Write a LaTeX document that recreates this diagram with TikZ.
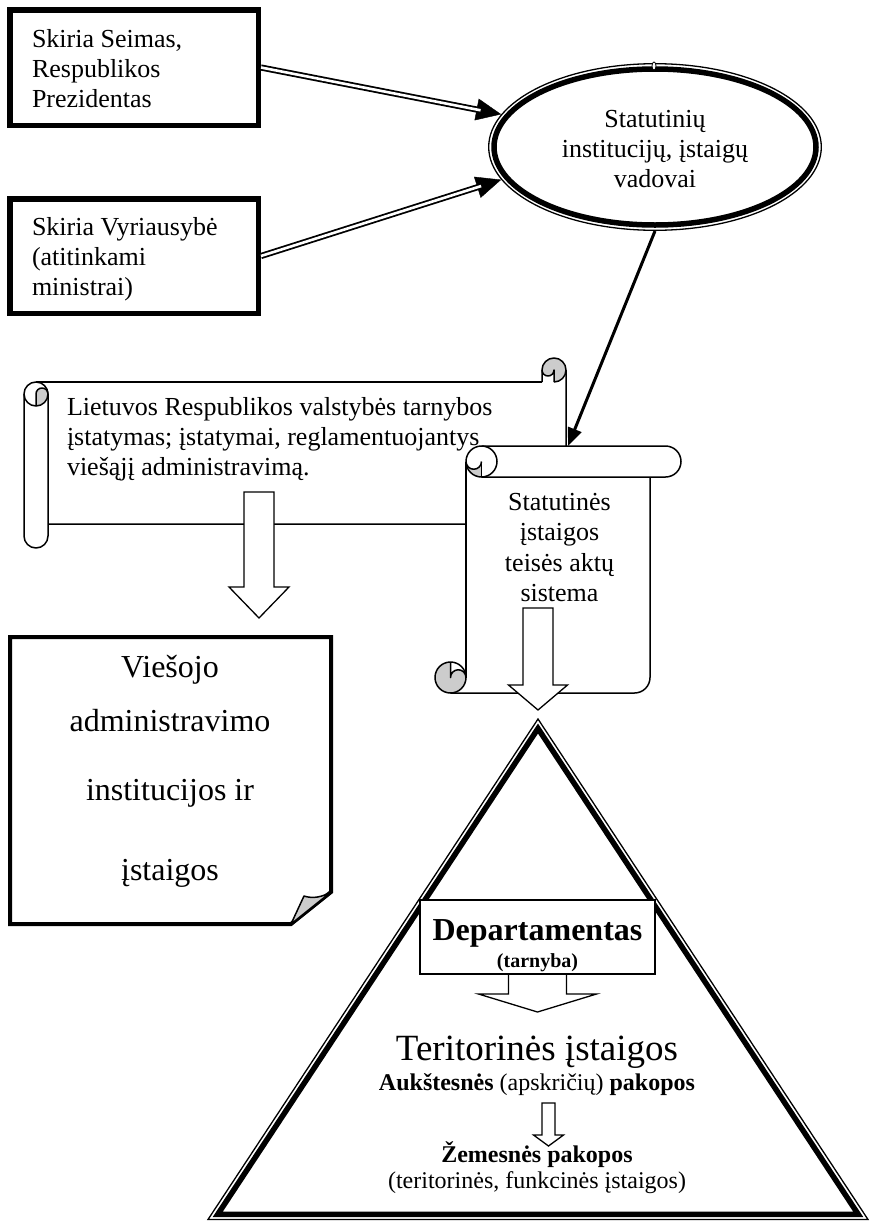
\documentclass[tikz,border=0pt]{standalone}
\usepackage{fontspec}
\setmainfont{Liberation Serif}
\usetikzlibrary{arrows.meta,shapes.geometric}
\newcommand\myfs[2]{\fontsize{#1pt}{#2pt}\selectfont}
\begin{document}
\begin{tikzpicture}[x=1pt,y=-1pt,
  thickbox/.style={draw, rectangle, line width=5.5pt, inner sep=0pt},
  txt/.style={inner sep=0pt, outer sep=0pt, font=\myfs{26}{30}},
  dbl/.style={draw, double=white, double distance=2.6pt, line width=1.8pt},
  tipline/.style={line width=0.4pt, -{Triangle[length=25pt,width=22pt]}},
  outl/.style={line width=1.5pt, line join=round},
  grey/.style={fill=gray!40},
  blockarrow/.style={draw, fill=white, line width=1.3pt, line join=miter}]
\useasboundingbox (0,0) rectangle (872,1221);

% ---------- top boxes ----------
\node[thickbox, minimum width=248.5pt, minimum height=115.5pt] (b1) at (134,67.5) {};
\node[thickbox, minimum width=248.5pt, minimum height=114.5pt] (b2) at (134,256) {};
\node[txt, anchor=base west, align=left] (t1) at (32,107) {Skiria Seimas,\\Respublikos\\Prezidentas};
\node[txt, anchor=base west, align=left] (t2) at (32,295) {Skiria Vyriausybė\\(atitinkami\\ministrai)};

% ---------- ellipse ----------
\node[ellipse, minimum width=334pt, minimum height=168pt, inner sep=0pt, outer sep=0pt] (ell) at (655,147) {};
\draw[line width=1.3pt] (ell.center) ellipse[x radius=166.3, y radius=83.3];
\draw[line width=5.5pt] (ell.center) ellipse[x radius=161, y radius=78];
\draw[line width=0.8pt, fill=white] (654,66) ellipse[x radius=2, y radius=4];
\node[txt, anchor=base, align=center] (te) at (655,187) {Statutinių\\institucijų, įstaigų\\vadovai};

% ---------- double arrows ----------
\draw[tipline] (b1.east) -- (ell.168);
\draw[dbl, shorten >=21pt] (b1.east) -- (ell.168);
\draw[tipline] (b2.east) -- (ell.192);
\draw[dbl, shorten >=21pt] (b2.east) -- (ell.192);

% ---------- horizontal scroll ----------
\fill[grey] (554,382) arc[start angle=90,end angle=-180,radius=12] arc[start angle=180,end angle=0,radius=6] -- cycle;
\fill[grey] (36,406) arc[start angle=90,end angle=0,radius=12] arc[start angle=0,end angle=-180,radius=6] -- cycle;
\draw[outl] (36,382) -- (542,382);
\draw[outl] (542,382) -- (542,370) arc[start angle=180,end angle=450,radius=12];
\draw[outl] (542,370) arc[start angle=180,end angle=0,radius=6] -- (554,382);
\draw[outl] (566,370) -- (566,512) arc[start angle=0,end angle=90,radius=12] -- (48,524);
\draw[outl] (36,394) circle[radius=12];
\draw[outl] (48,394) arc[start angle=0,end angle=-180,radius=6] -- (36,406);
\draw[outl] (24,394) -- (24,536) arc[start angle=180,end angle=0,radius=12] -- (48,394);
\node[txt, anchor=base west, align=left] (ts1) at (67,475) {Lietuvos Respublikos valstybės tarnybos\\įstatymas; įstatymai, reglamentuojantys\\viešąjį administravimą.};

% ---------- vertical scroll ----------
\fill[white] (481.5,446) rectangle (665.5,477);
\fill[white] (665.5,461.5) circle[radius=15.5];
\fill[white] (466,477) rectangle (650,693);
\fill[white] (481.5,461.5) circle[radius=15.5];
\fill[white] (450.5,677.5) circle[radius=15.5];
\fill[grey] (481.5,461.5) arc[start angle=0,end angle=180,radius=7.75] arc[start angle=180,end angle=90,radius=15.5] -- cycle;
\fill[grey] (450.5,662) arc[start angle=270,end angle=0,radius=15.5] arc[start angle=0,end angle=-180,radius=7.75] -- cycle;
\draw[outl] (481.5,461.5) circle[radius=15.5];
\draw[outl] (481.5,461.5) arc[start angle=0,end angle=180,radius=7.75];
\draw[outl] (481.5,461.5) -- (481.5,477);
\draw[outl] (481.5,446) -- (665.5,446) arc[start angle=-90,end angle=90,radius=15.5] -- (481.5,477);
\draw[outl] (650,477) -- (650,677.5) arc[start angle=0,end angle=90,radius=15.5] -- (450.5,693);
\draw[outl] (466,461.5) -- (466,677.5);
\draw[outl] (450.5,677.5) circle[radius=15.5];
\draw[outl] (466,677.5) arc[start angle=0,end angle=-180,radius=7.75] -- (450.5,662);
\node[txt, anchor=base, align=center, font=\myfs{26}{30.5}] (ts2) at (559.5,601.5) {Statutinės\\įstaigos\\teisės aktų\\sistema};

% ---------- arrow from ellipse ----------
\coordinate (s2top) at (568,446);
\draw[line width=3pt, -{Triangle[length=18pt,width=14pt]}] (ell.south) -- (s2top);

% ---------- block arrows from scrolls ----------
\draw[blockarrow] (244,492) -- (274,492) -- (274,587) -- (289,587) -- (259,618) -- (229,587) -- (244,587) -- cycle;
\draw[blockarrow] (523,608) -- (553,608) -- (553,685) -- (567.5,685) -- (538,710) -- (508.5,685) -- (523,685) -- cycle;

% ---------- document box ----------
\fill[white] (10,637) -- (331,637) -- (331,892) -- (291,924) -- (10,924) -- cycle;
\draw[line width=4pt, line join=miter] (10,637) -- (331,637) -- (331,892) -- (291,924) -- (10,924) -- cycle;
\draw[grey, line width=1.5pt, line join=round] (291,924) -- (304,896) .. controls (313,899) and (322,897) .. (331,892) -- cycle;
\node[txt, anchor=base, align=center, font=\myfs{32}{37}] (tv) at (170,880) {Viešojo\\[17pt]administravimo\\[32pt]institucijos ir\\[43pt]įstaigos};

% ---------- triangle ----------
\draw[line width=1.3pt, line join=miter] (538,719) -- (868,1219.5) -- (208,1219.5) -- cycle;
\draw[line width=5.5pt, line join=miter] (538,728.5) -- (858.2,1214.25) -- (217.8,1214.25) -- cycle;

\node[draw, fill=white, line width=1.3pt, rectangle, minimum width=235pt, minimum height=74pt, inner sep=0pt] (dep) at (537.5,937) {};
\node[inner sep=0pt, font=\myfs{32}{36}\bfseries, anchor=base] (td) at (537.5,940) {Departamentas};
\node[inner sep=0pt, font=\myfs{20}{24}\bfseries, anchor=base] (td2) at (537.5,967) {(tarnyba)};
\draw[blockarrow] (508.5,974) -- (566.5,974) -- (566.5,994) -- (596.5,994) -- (537.5,1012) -- (478.5,994) -- (508.5,994) -- cycle;
\draw[line width=1.3pt] (508.5,974) -- (566.5,974);

\node[inner sep=0pt, font=\myfs{37}{42}, anchor=base] (tt) at (537,1060) {Teritorinės įstaigos};
\node[inner sep=0pt, font=\myfs{24}{28}, anchor=base] (ta) at (537,1090) {\textbf{Aukštesnės} (apskričių) \textbf{pakopos}};
\draw[blockarrow] (542,1103) -- (555,1103) -- (555,1135) -- (563.5,1135) -- (548.5,1146) -- (533.5,1135) -- (542,1135) -- cycle;
\node[inner sep=0pt, font=\myfs{24}{28}\bfseries, anchor=base] (tz) at (537,1162) {Žemesnės pakopos};
\node[inner sep=0pt, font=\myfs{24}{28}, anchor=base] (tf) at (537,1188) {(teritorinės, funkcinės įstaigos)};
\end{tikzpicture}
\end{document}
